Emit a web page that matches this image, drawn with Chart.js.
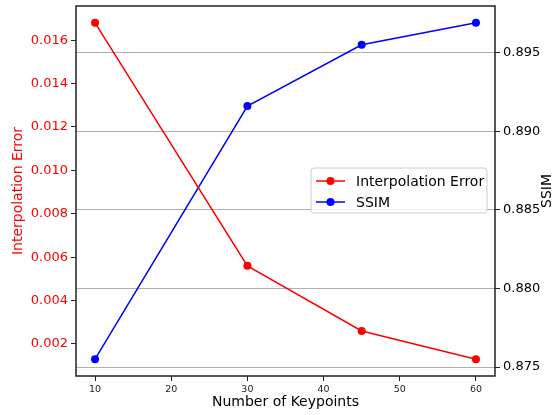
<!DOCTYPE html>
<html>
<head>
<meta charset="utf-8">
<script src="https://cdn.jsdelivr.net/npm/chart.js@4/dist/chart.umd.min.js"></script>
<style>
  html, body { margin: 0; padding: 0; background: #fff; }
  #wrap { width: 555px; height: 415px; }
</style>
</head>
<body>
<div id="wrap"><canvas id="c" width="555" height="415"></canvas></div>
<script>
const keypoints = [10, 30, 45, 60];
const interpError = [0.0168, 0.0056, 0.0026, 0.0013];
const ssim = [0.8755, 0.8916, 0.8955, 0.8969];
const xTicks = [10, 20, 30, 40, 50, 60];
const errTicks = [0.002, 0.004, 0.006, 0.008, 0.010, 0.012, 0.014, 0.016];
const ssimTicks = [0.875, 0.880, 0.885, 0.890, 0.895];
const labels = { x: 'Number of Keypoints', left: 'Interpolation Error', right: 'SSIM' };
const seriesNames = ['Interpolation Error', 'SSIM'];

const FONT = 'DejaVu Sans';
const RED = '#ff0000', BLUE = '#0000ff', FRAME = '#222222';

function padRange(arr) {
  const mn = Math.min(...arr), mx = Math.max(...arr), m = (mx - mn) * 0.05;
  return [mn - m, mx + m];
}
const xr = padRange(keypoints);
const er = padRange(interpError);
const sr = padRange(ssim);

const framePlugin = {
  id: 'frame',
  afterDatasetsDraw(chart) {
    const { ctx, chartArea: a } = chart;
    ctx.save();
    ctx.strokeStyle = FRAME;
    ctx.lineWidth = 1.5;
    ctx.strokeRect(a.left, a.top, a.right - a.left, a.bottom - a.top);
    ctx.restore();
  },
  afterDraw(chart) {
    const { ctx, chartArea: a } = chart;
    ctx.save();
    ctx.font = '14px "' + FONT + '"';
    ctx.fillStyle = '#000';
    ctx.textAlign = 'center';
    ctx.textBaseline = 'middle';
    ctx.translate(547, (a.top + a.bottom) / 2);
    ctx.rotate(-Math.PI / 2);
    ctx.fillText(labels.right, 0, 0);
    ctx.restore();

    ctx.save();
    const bx = 311, by = 168, bw = 176, bh = 45, r = 3;
    ctx.beginPath();
    ctx.moveTo(bx + r, by);
    ctx.arcTo(bx + bw, by, bx + bw, by + bh, r);
    ctx.arcTo(bx + bw, by + bh, bx, by + bh, r);
    ctx.arcTo(bx, by + bh, bx, by, r);
    ctx.arcTo(bx, by, bx + bw, by, r);
    ctx.closePath();
    ctx.fillStyle = 'rgba(255,255,255,0.8)';
    ctx.fill();
    ctx.strokeStyle = '#cccccc';
    ctx.lineWidth = 1;
    ctx.stroke();
    const colors = [RED, BLUE];
    const rows = [181, 202];
    ctx.font = '14px "' + FONT + '"';
    ctx.textAlign = 'left';
    ctx.textBaseline = 'middle';
    seriesNames.forEach((name, i) => {
      const y = rows[i];
      ctx.strokeStyle = colors[i];
      ctx.lineWidth = 1.5;
      ctx.beginPath();
      ctx.moveTo(316, y);
      ctx.lineTo(345, y);
      ctx.stroke();
      ctx.fillStyle = colors[i];
      ctx.beginPath();
      ctx.arc(330.5, y, 4, 0, Math.PI * 2);
      ctx.fill();
      ctx.fillStyle = '#000';
      ctx.fillText(name, 356, y + 1);
    });
    ctx.restore();
  }
};

new Chart(document.getElementById('c'), {
  type: 'line',
  data: {
    datasets: [
      {
        label: seriesNames[0],
        data: keypoints.map((k, i) => ({ x: k, y: interpError[i] })),
        yAxisID: 'yErr',
        borderColor: RED,
        backgroundColor: RED,
        borderWidth: 1.5,
        pointRadius: 4,
        pointBorderWidth: 0,
        pointBackgroundColor: RED,
        tension: 0,
        clip: false
      },
      {
        label: seriesNames[1],
        data: keypoints.map((k, i) => ({ x: k, y: ssim[i] })),
        yAxisID: 'ySsim',
        borderColor: BLUE,
        backgroundColor: BLUE,
        borderWidth: 1.5,
        pointRadius: 4,
        pointBorderWidth: 0,
        pointBackgroundColor: BLUE,
        tension: 0,
        clip: false
      }
    ]
  },
  options: {
    responsive: false,
    animation: false,
    devicePixelRatio: 1,
    layout: { padding: { top: 6, left: 0, right: 0, bottom: 0 } },
    plugins: { legend: { display: false }, tooltip: { enabled: false } },
    scales: {
      x: {
        type: 'linear',
        position: 'bottom',
        min: xr[0],
        max: xr[1],
        afterBuildTicks: (s) => { s.ticks = xTicks.map(v => ({ value: v })); },
        afterFit: (s) => { s.height = 39; s.paddingLeft = 0; s.paddingRight = 0; },
        border: { display: false },
        grid: { display: true, drawOnChartArea: false, drawTicks: true, tickLength: 5, tickColor: FRAME, tickWidth: 1 },
        ticks: { color: '#222', font: { family: FONT, size: 9.5 }, padding: 3, maxRotation: 0, callback: (v) => String(v) },
        title: { display: true, text: labels.x, color: '#000', font: { family: FONT, size: 14 }, padding: { top: 0, bottom: 4 } }
      },
      yErr: {
        type: 'linear',
        position: 'left',
        min: er[0],
        max: er[1],
        afterBuildTicks: (s) => { s.ticks = errTicks.map(v => ({ value: v })); },
        afterFit: (s) => { s.width = 76; s.paddingTop = 0; s.paddingBottom = 0; },
        border: { display: false },
        grid: { display: true, drawOnChartArea: false, drawTicks: true, tickLength: 5, tickColor: FRAME, tickWidth: 1 },
        ticks: { color: RED, font: { family: FONT, size: 13 }, padding: 3, callback: (v) => Number(v).toFixed(3) },
        title: { display: true, text: labels.left, color: RED, font: { family: FONT, size: 14 }, padding: { top: 10, bottom: 0 } }
      },
      ySsim: {
        type: 'linear',
        position: 'right',
        min: sr[0],
        max: sr[1],
        afterBuildTicks: (s) => { s.ticks = ssimTicks.map(v => ({ value: v })); },
        afterFit: (s) => { s.width = 60; s.paddingTop = 0; s.paddingBottom = 0; },
        border: { display: false },
        grid: { display: true, drawOnChartArea: true, color: '#b0b0b0', lineWidth: 1, drawTicks: true, tickLength: 5, tickColor: FRAME, tickWidth: 1 },
        ticks: { color: '#000', font: { family: FONT, size: 13 }, padding: 3, callback: (v) => Number(v).toFixed(3) },
        title: { display: false }
      }
    }
  },
  plugins: [framePlugin]
});
</script>
</body>
</html>
